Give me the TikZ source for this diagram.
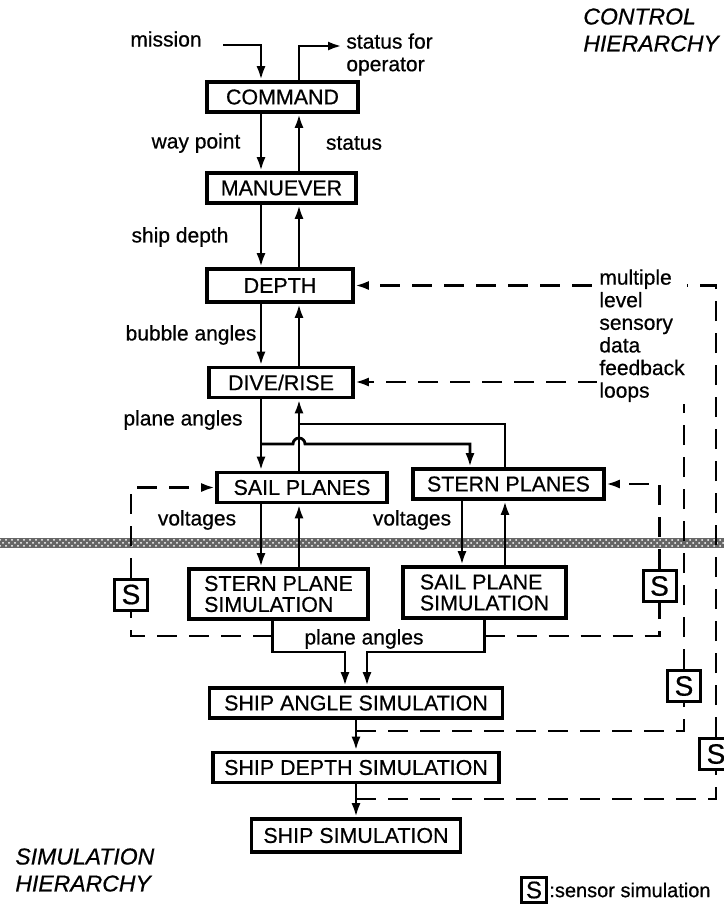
\documentclass[tikz,border=0pt]{standalone}
\usepackage{fontspec}
\setmainfont{Liberation Sans}[FakeBold=0.6]
\usetikzlibrary{arrows.meta,calc,patterns}

\begin{document}
\begin{tikzpicture}[x=0.5pt, y=-0.5pt,
  block/.style={rectangle, draw, line width=1.8pt, minimum height=15pt,
                inner sep=2pt, font=\fontsize{10.7}{10.5}\selectfont},
  sens/.style={rectangle, draw, line width=1.5pt, minimum width=16.5pt,
               minimum height=15.5pt, inner sep=0pt, font=\fontsize{14}{14}\selectfont},
  lbl/.style={inner sep=1pt, font=\fontsize{10.5}{11.3}\selectfont},
  heading/.style={anchor=north west, align=left, inner sep=0pt,
                  font=\fontsize{11.5}{13.5}\selectfont\itshape},
  arr/.style={-{Latex[length=7pt,width=4.5pt]}, line width=1.4pt},
  wire/.style={line width=1.4pt},
  fb/.style={line width=1.4pt, dash pattern=on 10pt off 6pt},
  fbarr/.style={fb, -{Latex[length=7pt,width=4.5pt]}}
]
\useasboundingbox (0,0) rectangle (724,918);

\fill[black!60] (0,538) rectangle (724,548);
\fill[pattern=crosshatch dots, pattern color=white] (0,538) rectangle (724,548);

\node[block, minimum width=75.5pt] (cmd)    at (282.5,97)  {COMMAND};
\node[block, minimum width=74.5pt] (mnv)    at (281.5,188) {MANUEVER};
\node[block, minimum width=73pt, minimum height=16.5pt]
                                   (dep)    at (280,285.5) {DEPTH};
\node[block, minimum width=72pt]   (dive)   at (281,382.5) {DIVE/RISE};
\node[block, minimum width=85pt]   (sail)   at (302,487.5) {SAIL PLANES};
\node[block, minimum width=95.5pt] (stern)  at (508.5,484) {STERN PLANES};
\node[block, minimum width=89.5pt, minimum height=25pt, align=left]
                                   (sternsim) at (278.5,594) {STERN PLANE\\SIMULATION};
\node[block, minimum width=81.5pt, minimum height=25.5pt, align=left]
                                   (sailsim)  at (484.5,592.5) {SAIL PLANE\\SIMULATION};
\node[block, minimum width=146.5pt] (angle)    at (356,703)   {SHIP ANGLE SIMULATION};
\node[block, minimum width=143pt]   (depthsim) at (356,767.5) {SHIP DEPTH SIMULATION};
\node[block, minimum width=104.5pt, minimum height=16.5pt]
                                    (ship)     at (356,835.5) {SHIP SIMULATION};

\node[sens] (sL)  at (131,594.5) {S};
\node[sens] (sR1) at (659.5,586) {S};
\node[sens] (sR2) at (684,686)   {S};
\node[sens] (sR3) at (716,754)   {S};
\node[sens, minimum width=12.5pt, minimum height=12.5pt, font=\fontsize{12}{12}\selectfont]
            (skey) at (534,890)  {S};
\node[lbl, anchor=west, inner sep=0.5pt, font=\fontsize{10}{11}\selectfont]
            (key) at (skey.east) {:sensor simulation};

\node[lbl] (mission) at (166,39)  {mission};
\node[lbl, anchor=north west, align=left] (oper) at (344,31) {status for\\operator};
\node[lbl] (wp)    at (196,143) {way point};
\node[lbl] (st)    at (354,143) {status};
\node[lbl] (shd)   at (180,237) {ship depth};
\node[lbl] (bub)   at (191,335) {bubble angles};
\node[lbl] (pa1)   at (183,420) {plane angles};
\node[lbl] (volt1) at (197,520) {voltages};
\node[lbl] (volt2) at (412,520) {voltages};
\node[lbl] (pa2)   at (364,639) {plane angles};

\node[heading] (ctrl) at (583,8)   {CONTROL\\HIERARCHY};
\node[heading] (simh) at (15,848)  {SIMULATION\\HIERARCHY};

\coordinate (dn)  at (261,0);
\coordinate (up)  at (299,0);
\coordinate (dn2) at (462,0);
\coordinate (up2) at (505,0);
\coordinate (br)  at (470,0);
\coordinate (misin) at (223,45);
\coordinate (opout) at (342,46);
\coordinate (hop) at (299,444);
\coordinate (jn)  at (299,424);
\coordinate (pl)  at (345,652);
\coordinate (pr)  at (367,652);

\draw[arr] (misin) -| (cmd.north -| dn);
\draw[arr] (cmd.north -| up) |- (opout);
\draw[arr] (cmd.south -| dn) -- (mnv.north -| dn);
\draw[arr] (mnv.north -| up) -- (cmd.south -| up);
\draw[arr] (mnv.south -| dn) -- (dep.north -| dn);
\draw[arr] (dep.north -| up) -- (mnv.south -| up);
\draw[arr] (dep.south -| dn) -- (dive.north -| dn);
\draw[arr] (dive.north -| up) -- (dep.south -| up);
\draw[arr] (dive.south -| dn) -- (sail.north -| dn);
\draw[arr] (sail.north -| up) -- (dive.south -| up);
\draw[arr] (hop -| dn) -- ($(hop)+(-6,0)$) arc[start angle=180, end angle=360, radius=6]
           -- (hop -| br) -- (stern.north -| br);
\draw[wire] (stern.north -| up2) |- (jn);

\draw[arr] (sail.south -| dn) -- (sternsim.north -| dn);
\draw[arr] (sternsim.north -| up) -- (sail.south -| up);
\draw[arr] (stern.south -| dn2) -- (sailsim.north -| dn2);
\draw[arr] (sailsim.north -| up2) -- (stern.south -| up2);

\draw[arr] ($(sternsim.south)+(-6,0)$) |- (pl) -- (angle.north -| pl);
\draw[arr] (sailsim.south) |- (pr) -- (angle.north -| pr);
\draw[arr] (angle) -- (depthsim);
\draw[arr] (depthsim) -- (ship);

\coordinate (tapL) at (272.5,636);
\coordinate (tapR) at (484.5,636);
\coordinate (tapA) at (356,731);
\coordinate (tapD) at (356,799);
\coordinate (loopend) at (684,403);
\coordinate (loopin)  at (598,382);

\draw[fb] (tapL) -| (sL.south);
\draw[fbarr] (sL.north) |- (sail.west);
\draw[fb] (tapR) -| (sR1.south);
\draw[fbarr] (sR1.north) |- (stern.east);
\draw[fb] (tapA) -| (sR2.south);
\draw[fb] (sR2.north) -- (loopend);
\draw[fbarr] (loopin) -- (dive.east |- loopin);
\draw[fb] (tapD) -| (sR3.south);
\draw[fbarr] (sR3.north) |- (dep.east);

\node[lbl, anchor=north west, align=left, fill=white] (loops) at (597,267)
  {multiple\\level\\sensory\\data\\feedback\\loops};

\end{tikzpicture}
\end{document}
